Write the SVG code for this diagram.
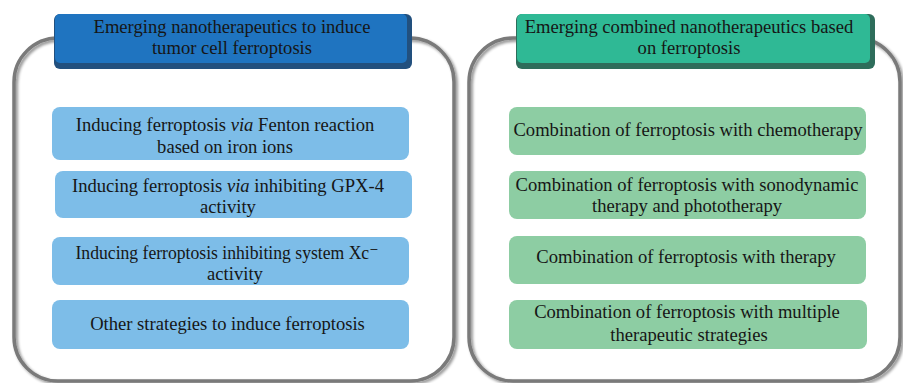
<svg xmlns="http://www.w3.org/2000/svg" width="903" height="383" viewBox="0 0 903 383">
<defs>
<filter id="sh" x="-5%" y="-5%" width="110%" height="110%">
<feGaussianBlur in="SourceAlpha" stdDeviation="1.6"/>
<feOffset dx="2" dy="2" result="b"/>
<feComponentTransfer><feFuncA type="linear" slope="0.45"/></feComponentTransfer>
<feMerge><feMergeNode/><feMergeNode in="SourceGraphic"/></feMerge>
</filter>
</defs>
<style>
.frame{fill:none;stroke:#7a7a7a;stroke-width:3.5}
.t{font-family:"Liberation Serif","Times New Roman","DejaVu Serif",serif;font-size:18.6px;fill:#161616;text-anchor:middle}
.blue{fill:#7dbde8}
.green{fill:#8dcda3}
.hbL{fill:#22507e}
.hfL{fill:#1f74c0}
.hbR{fill:#2e6d5b}
.hfR{fill:#2fb995}
</style>
<rect width="903" height="383" fill="#ffffff"/>
<g id="frames" filter="url(#sh)">
<rect id="frame-left" class="frame" x="14" y="38" width="440" height="343" rx="44"/>
<rect id="frame-right" class="frame" x="469" y="38" width="431" height="343" rx="44"/>
</g>
<g id="connectors"></g>
<g id="header-left">
<rect class="hbL" x="54" y="14" width="358" height="55" rx="6"/>
<rect class="hfL" x="55" y="14" width="352" height="49" rx="5"/>
<text class="t" x="232" y="33">Emerging nanotherapeutics to induce</text>
<text class="t" x="232" y="54">tumor cell ferroptosis</text>
</g>
<g id="header-right">
<rect class="hbR" x="516" y="14" width="359" height="55" rx="6"/>
<rect class="hfR" x="517" y="14" width="353" height="49" rx="5"/>
<text class="t" x="689" y="33">Emerging combined nanotherapeutics based</text>
<text class="t" x="689" y="54">on ferroptosis</text>
</g>
<g id="left-1">
<rect class="blue" x="52" y="107" width="357" height="53" rx="8"/>
<text class="t" x="225" y="131">Inducing ferroptosis <tspan font-style="italic">via</tspan> Fenton reaction</text>
<text class="t" x="225" y="153">based on iron ions</text>
</g>
<g id="left-2">
<rect class="blue" x="55" y="171" width="357" height="47" rx="8"/>
<text class="t" x="228" y="192">Inducing ferroptosis <tspan font-style="italic">via</tspan> inhibiting GPX-4</text>
<text class="t" x="228" y="213">activity</text>
</g>
<g id="left-3">
<rect class="blue" x="52" y="237" width="357" height="48" rx="8"/>
<text class="t" x="227" y="259" textLength="303" lengthAdjust="spacingAndGlyphs">Inducing ferroptosis inhibiting system Xc⁻</text>
<text class="t" x="235" y="280">activity</text>
</g>
<g id="left-4">
<rect class="blue" x="52" y="300" width="357" height="49" rx="8"/>
<text class="t" x="227.5" y="330">Other strategies to induce ferroptosis</text>
</g>
<g id="right-1">
<rect class="green" x="509" y="107" width="357" height="48" rx="8"/>
<text class="t" x="688" y="136">Combination of ferroptosis with chemotherapy</text>
</g>
<g id="right-2">
<rect class="green" x="509" y="171" width="357" height="48" rx="8"/>
<text class="t" x="687" y="191">Combination of ferroptosis with sonodynamic</text>
<text class="t" x="687" y="212">therapy and phototherapy</text>
</g>
<g id="right-3">
<rect class="green" x="509" y="236" width="357" height="48" rx="8"/>
<text class="t" x="686" y="263">Combination of ferroptosis with therapy</text>
</g>
<g id="right-4">
<rect class="green" x="509" y="300" width="358" height="49" rx="8"/>
<text class="t" x="687" y="318">Combination of ferroptosis with multiple</text>
<text class="t" x="689" y="341">therapeutic strategies</text>
</g>
</svg>
